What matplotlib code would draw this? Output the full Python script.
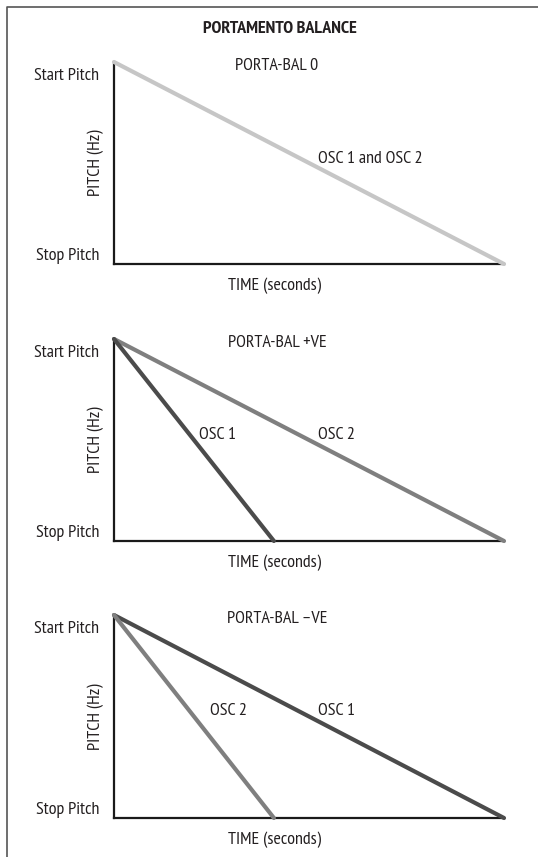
import matplotlib
matplotlib.use("Agg")
import matplotlib.pyplot as plt
from matplotlib.lines import Line2D

plt.rcParams['font.family'] = ['PT Sans Narrow', 'DejaVu Sans']

# ---- data ----
title = "PORTAMENTO BALANCE"
panel_titles = ["PORTA-BAL 0", "PORTA-BAL +VE", "PORTA-BAL \u2013VE"]
y_labels = ["Stop Pitch", "Start Pitch"]
x_label = "TIME (seconds)"
y_axis_label = "PITCH (Hz)"
pitch = [1.0, 0.0]  # start -> stop
# glide end times per panel (fraction of full time)
osc1_end = [1.0, 0.41, 1.0]
osc2_end = [1.0, 1.0, 0.41]

c_light = "#c6c6c6"
c_mid = "#7f7f7f"
c_dark = "#4b4b4b"
c_text = "#231f20"

W, H = 538, 857
fig = plt.figure(figsize=(W / 100, H / 100), dpi=100)

def px_axes(x0, y0, x1, y1):
    return fig.add_axes([x0 / W, 1 - y1 / H, (x1 - x0) / W, (y1 - y0) / H])

def ftext(x, y, s, **kw):
    fig.text(x / W, 1 - (y + 2) / H, s, color=c_text, **kw)

# frame (top and left only)
fig.add_artist(Line2D([7 / W, 7 / W, 1.0], [0.0, 1 - 6.5 / H, 1 - 6.5 / H],
                      transform=fig.transFigure, color="#555555", lw=1.2))

ftext(280, 27, title, ha="center", va="center", fontsize=13, fontweight="bold")

tops = [62, 339, 615]
bots = [264, 541, 818]
fs = 13

for i in range(3):
    ax = px_axes(114, tops[i], 504, bots[i])
    ax.set_xlim(0, 1)
    ax.set_ylim(0, 1)
    for s in ["top", "right"]:
        ax.spines[s].set_visible(False)
    for s in ["left", "bottom"]:
        ax.spines[s].set_linewidth(1.6)
        ax.spines[s].set_color("#1a1a1a")
    ax.set_xticks([])
    ax.set_yticks([])
    ax.patch.set_alpha(0)

    if i == 0:
        ax.plot([0, osc1_end[i]], pitch, color=c_light, lw=3, clip_on=False,
                solid_capstyle="round", zorder=3)
    elif i == 1:
        ax.plot([0, osc2_end[i]], pitch, color=c_mid, lw=3, clip_on=False,
                solid_capstyle="round", zorder=3)
        ax.plot([0, osc1_end[i]], pitch, color=c_dark, lw=3, clip_on=False,
                solid_capstyle="round", zorder=4)
    else:
        ax.plot([0, osc1_end[i]], pitch, color=c_dark, lw=3, clip_on=False,
                solid_capstyle="round", zorder=3)
        ax.plot([0, osc2_end[i]], pitch, color=c_mid, lw=3, clip_on=False,
                solid_capstyle="round", zorder=4)

    t, b = tops[i], bots[i]
    ftext(99, t + 12, y_labels[1], ha="right", va="center", fontsize=fs)
    ftext(99, b - 10, y_labels[0], ha="right", va="center", fontsize=fs)
    ftext(96, (t + b) / 2 - 2, y_axis_label, ha="center", va="center", fontsize=fs,
          rotation=90)
    ftext(274, b + 20, x_label, ha="center", va="center", fontsize=fs)
    ftext(277, t + 2, panel_titles[i], ha="center", va="center", fontsize=fs)

    if i == 0:
        ftext(370, t + 95, "OSC 1 and OSC 2", ha="center", va="center", fontsize=fs)
    elif i == 1:
        ftext(218, t + 94, "OSC 1", ha="center", va="center", fontsize=fs)
        ftext(337, t + 94, "OSC 2", ha="center", va="center", fontsize=fs)
    else:
        ftext(228, t + 94, "OSC 2", ha="center", va="center", fontsize=fs)
        ftext(336, t + 94, "OSC 1", ha="center", va="center", fontsize=fs)

fig.savefig("out.png", dpi=100)
